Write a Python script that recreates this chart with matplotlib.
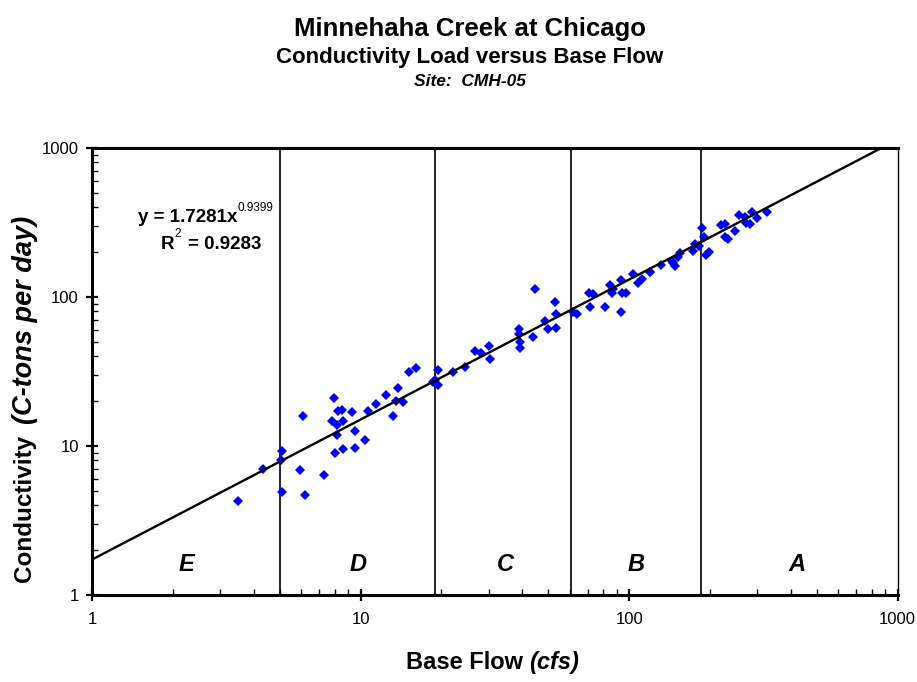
import numpy as np
import matplotlib
matplotlib.use("Agg")
import matplotlib.pyplot as plt
from matplotlib.ticker import LogLocator, NullFormatter, FixedLocator, FixedFormatter

plt.rcParams['font.family'] = ['Liberation Sans', 'DejaVu Sans']

# Base flow (cfs) and conductivity load (C-tons per day) observations
base_flow = [
    3.50, 4.32, 5.09, 5.05, 5.09, 5.94, 6.08, 6.22, 7.32, 7.95,
    7.80, 8.26, 8.55, 8.18, 8.62, 8.18, 8.05, 8.62, 9.31, 9.54,
    9.54, 10.4, 10.7, 11.4, 12.4, 13.2, 13.8, 13.5, 14.4, 15.2,
    16.1, 18.6, 19.4, 19.4, 18.9, 22.0, 24.4, 26.6, 28.0, 30.0,
    30.3, 38.9, 38.9, 39.1, 39.1, 43.9, 44.8, 48.5, 49.7, 52.9,
    53.3, 53.3, 61.8, 63.9, 70.9, 71.3, 73.4, 81.1, 85.1, 86.6,
    87.0, 93.5, 94.4, 97.1, 93.5, 103.3, 107.9, 112.0, 119.4, 131.9,
    145.6, 120.0, 144.9, 147.9, 152.2, 154.3, 172.9, 175.4, 182.0, 186.7,
    189.3, 193.7, 197.6, 220.0, 226.8, 226.8, 233.0, 248.5, 256.4, 269.0,
    273.0, 281.0, 287.5, 299.0, 327.0,
]
conductivity_load = [
    4.27, 7.0, 9.26, 8.05, 4.89, 6.9, 15.97, 4.69, 6.42, 21.1,
    14.6, 17.2, 17.4, 13.8, 14.6, 11.9, 9.02, 9.5, 17.0, 12.7,
    9.74, 10.9, 17.2, 19.1, 22.0, 16.0, 24.6, 20.1, 19.6, 31.5,
    33.2, 27.0, 32.4, 25.7, 27.7, 31.5, 33.7, 43.6, 42.3, 46.9,
    38.4, 60.7, 56.5, 49.7, 45.3, 54.2, 112.7, 69.0, 60.7, 92.1,
    76.9, 61.9, 79.8, 76.9, 105.9, 86.1, 104.3, 86.1, 120.5, 106.9,
    112.7, 130.0, 106.9, 105.9, 79.8, 142.8, 123.6, 132.0, 147.9, 164.0,
    168.0, 148.0, 175.0, 161.5, 184.6, 198.0, 204.5, 227.0, 220.0, 289.0,
    251.6, 191.3, 201.4, 304.0, 309.0, 251.6, 244.0, 278.6, 355.0, 343.0,
    312.6, 309.0, 370.0, 337.0, 374.0,
]

# Power-law regression: y = a * x^b
fit_a = 1.7281
fit_b = 0.9399
fit_r2 = 0.9283

# Flow-duration zone boundaries (cfs) and zone labels
zone_bounds = [5.0, 19.0, 61.0, 185.0]
zone_labels = ['E', 'D', 'C', 'B', 'A']
zone_label_x = [2.24, 9.8, 34.5, 106.0, 420.0]

x_ticks = [1, 10, 100, 1000]
y_ticks = [1, 10, 100, 1000]

fig = plt.figure(figsize=(9.17, 6.82), dpi=100)
ax = fig.add_axes([0.1003, 0.1276, 0.8787, 0.6554])
ax.set_xscale('log')
ax.set_yscale('log')
ax.set_xlim(1, 1000)
ax.set_ylim(1, 1000)

# zone dividers
for xb in zone_bounds:
    ax.axvline(xb, color='black', lw=1.2, zorder=1)

# observations
ax.plot(base_flow, conductivity_load, linestyle='none', marker='D',
        markersize=5.3, color='#0000F0', markeredgewidth=0, zorder=3)

# regression line
xf = np.logspace(0, 3, 200)
ax.plot(xf, fit_a * xf ** fit_b, color='black', lw=1.7, zorder=4)

# zone letters
for lab, xl in zip(zone_labels, zone_label_x):
    ax.text(xl, 1.6, lab, ha='center', va='center', fontsize=17,
            fontweight='bold', style='italic')

# regression equation, with small superscripts
eq = ax.text(0.057, 0.845, f'y = {fit_a}x', transform=ax.transAxes,
             ha='left', va='center', fontsize=13.5, fontweight='bold')
ax.annotate(f'{fit_b}', xy=(1.0, 0.72), xycoords=eq, ha='left', va='bottom',
            fontsize=8.5)
r2 = ax.text(0.085, 0.785, 'R', transform=ax.transAxes,
             ha='left', va='center', fontsize=13.5, fontweight='bold')
sup2 = ax.annotate('2', xy=(1.0, 0.72), xycoords=r2, ha='left', va='bottom',
                   fontsize=8.5)
ax.annotate(f'= {fit_r2}', xy=(1.0, 0.5), xycoords=r2, xytext=(10, 0),
            textcoords='offset points', ha='left', va='center',
            fontsize=13.5, fontweight='bold')

# spines
for side in ['left', 'bottom', 'top']:
    ax.spines[side].set_linewidth(2.2)
ax.spines['right'].set_linewidth(1.0)

# ticks
ax.xaxis.set_major_locator(FixedLocator(x_ticks))
ax.xaxis.set_major_formatter(FixedFormatter([str(v) for v in x_ticks]))
ax.yaxis.set_major_locator(FixedLocator(y_ticks))
ax.yaxis.set_major_formatter(FixedFormatter([str(v) for v in y_ticks]))
ax.xaxis.set_minor_locator(LogLocator(base=10, subs=np.arange(2, 10)))
ax.yaxis.set_minor_locator(LogLocator(base=10, subs=np.arange(2, 10)))
ax.xaxis.set_minor_formatter(NullFormatter())
ax.yaxis.set_minor_formatter(NullFormatter())
ax.tick_params(which='major', direction='inout', length=9, width=1.6,
               labelsize=12, pad=8)
ax.tick_params(which='minor', direction='in', length=4, width=1.0)
ax.tick_params(axis='y', which='major', pad=5)

# axis titles
ax.text(0.543, -0.151, 'Base Flow ', transform=ax.transAxes, ha='right',
        va='center', fontsize=17, fontweight='bold')
ax.text(0.543, -0.151, '(cfs)', transform=ax.transAxes, ha='left',
        va='center', fontsize=17, fontweight='bold', style='italic')

fig.text(0.027, 0.146, 'Conductivity', rotation=90, ha='center', va='bottom',
         fontsize=17.5, fontweight='bold')
fig.text(0.027, 0.378, '(C-tons per day)', rotation=90, ha='center', va='bottom',
         fontsize=19.5, fontweight='bold', style='italic')

# titles
fig.text(0.512, 0.958, 'Minnehaha Creek at Chicago', ha='center', va='center',
         fontsize=18.5, fontweight='bold')
fig.text(0.512, 0.916, 'Conductivity Load versus Base Flow', ha='center',
         va='center', fontsize=16, fontweight='bold')
fig.text(0.512, 0.881, 'Site:  CMH-05', ha='center', va='center',
         fontsize=12.5, fontweight='bold', style='italic')

fig.savefig('out.png', dpi=100)
